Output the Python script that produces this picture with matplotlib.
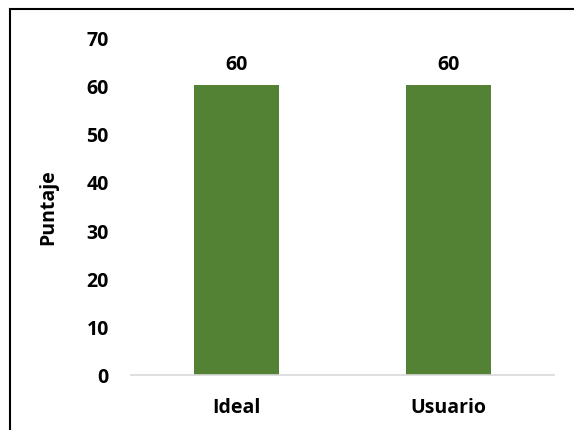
import matplotlib
matplotlib.use("Agg")
import matplotlib.pyplot as plt
from matplotlib.patches import Rectangle

categories = ["Ideal", "Usuario"]
values = [60, 60]
yticks = [0, 10, 20, 30, 40, 50, 60, 70]

plt.rcParams['font.family'] = ['Open Sans', 'DejaVu Sans']
plt.rcParams['font.weight'] = 'bold'

FS = 14

fig = plt.figure(figsize=(5.74, 4.31), dpi=100)
ax = fig.add_axes([131/574, 1-376/431, 423/574, 338/431])

bars = ax.bar(categories, values, width=0.4, color='#548235')
ax.set_ylim(0, 70)
ax.set_xlim(-0.5, 1.5)
ax.set_yticks(yticks)
for s in ['top', 'right', 'left']:
    ax.spines[s].set_visible(False)
ax.spines['bottom'].set_color('#d9d9d9')
ax.spines['bottom'].set_linewidth(1.2)
ax.tick_params(axis='both', length=0, labelsize=FS)
ax.tick_params(axis='y', pad=16)
ax.tick_params(axis='x', pad=16)
for lbl in ax.get_xticklabels() + ax.get_yticklabels():
    lbl.set_fontweight('bold')
for b, v in zip(bars, values):
    ax.annotate(f"{v}", (b.get_x() + b.get_width()/2, v), xytext=(0, 8),
                textcoords='offset points', ha='center', va='bottom',
                fontsize=FS, fontweight='bold')
ax.set_ylabel("Puntaje", fontsize=FS, fontweight='bold', labelpad=20)

fig.patches.append(Rectangle((10/574, -0.1), 1.2, 1 - 10/431 + 0.1,
                             transform=fig.transFigure, fill=False,
                             edgecolor='black', linewidth=1.5, zorder=10))
fig.savefig("out.png", dpi=100)
